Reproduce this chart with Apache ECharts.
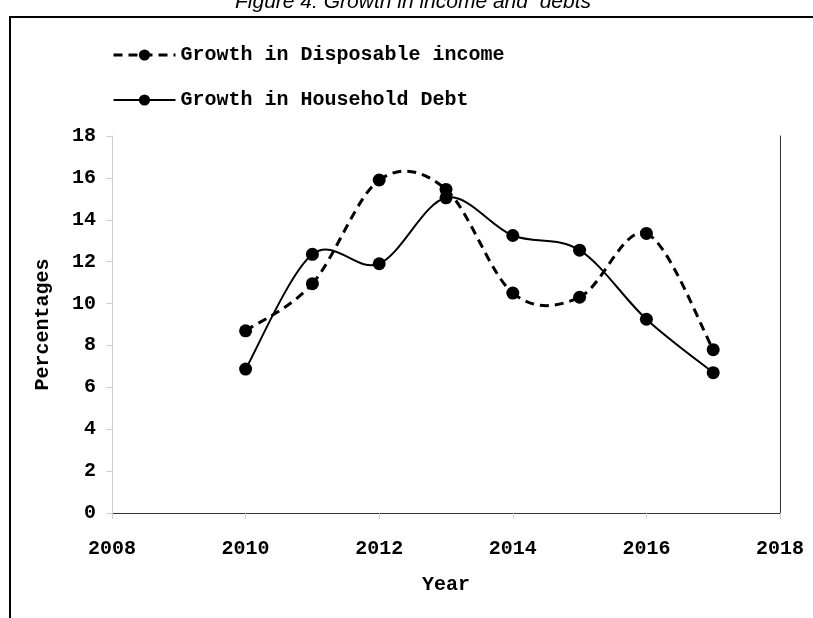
<!DOCTYPE html>
<html>
<head>
<meta charset="utf-8">
<script src="https://cdn.jsdelivr.net/npm/echarts@6/dist/echarts.min.js"></script>
<style>
  html, body { margin: 0; padding: 0; background: #fff; }
  #chart { width: 813px; height: 618px; }
</style>
</head>
<body>
<div id="chart"></div>
<script>
// values
const years = [2010, 2011, 2012, 2013, 2014, 2015, 2016, 2017]
const incomeGrowth = [8.7, 10.95, 15.9, 15.45, 10.5, 10.3, 13.35, 7.8]
const debtGrowth = [6.87, 12.35, 11.9, 15.05, 13.25, 12.55, 9.25, 6.7]
const yTicks = { min: 0, max: 18, step: 2 }
const xTicks = { min: 2008, max: 2018, step: 2 }

const mono = '"Liberation Mono", "Courier New", monospace'
const chart = echarts.init(document.getElementById('chart'), null, { renderer: 'canvas' })

const pair = (vals) => years.map((y, i) => [y, vals[i]])
const dashed = { color: '#000', width: 3, type: [9, 6] }
const solid = { color: '#000', width: 2, type: 'solid' }

// spreadsheet-style smoothed curve: one cubic bezier per segment,
// control points from neighbouring points (catmull-rom, /6)
function curve(vals, ls) {
  const n = years.length
  return {
    type: 'custom',
    silent: true,
    z: 1,
    data: pair(vals),
    encode: { x: 0, y: 1 },
    renderItem(params, api) {
      const i = params.dataIndex
      if (i >= n - 1) return null
      const p = (k) => {
        const j = Math.max(0, Math.min(n - 1, k))
        return api.coord([years[j], vals[j]])
      }
      const p0 = p(i - 1), p1 = p(i), p2 = p(i + 1), p3 = p(i + 2)
      return {
        type: 'bezierCurve',
        shape: {
          x1: p1[0], y1: p1[1], x2: p2[0], y2: p2[1],
          cpx1: p1[0] + (p2[0] - p0[0]) / 6, cpy1: p1[1] + (p2[1] - p0[1]) / 6,
          cpx2: p2[0] - (p3[0] - p1[0]) / 6, cpy2: p2[1] - (p3[1] - p1[1]) / 6
        },
        style: { fill: null, stroke: ls.color, lineWidth: ls.width, lineDash: Array.isArray(ls.type) ? ls.type : null }
      }
    }
  }
}

chart.setOption({
  backgroundColor: '#fff',
  animation: false,
  title: {
    text: 'Figure 4: Growth in income and  debts',
    left: 230,
    top: -13,
    textStyle: { fontFamily: 'Liberation Sans', fontStyle: 'italic', fontWeight: 'normal', fontSize: 21, color: '#000' }
  },
  graphic: [{
    type: 'rect',
    shape: { x: 10, y: 17, width: 820, height: 620 },
    style: { fill: 'none', stroke: '#000', lineWidth: 2 },
    silent: true
  }],
  legend: {
    orient: 'vertical',
    left: 112,
    top: 45,
    padding: 0,
    itemWidth: 62,
    itemHeight: 14,
    itemGap: 25,
    textStyle: { fontFamily: mono, fontWeight: 'bold', fontSize: 20, color: '#000' },
    data: [
      { name: 'Growth in Disposable income', lineStyle: Object.assign({ opacity: 1 }, dashed) },
      { name: 'Growth in Household Debt', lineStyle: Object.assign({ opacity: 1 }, solid) }
    ]
  },
  grid: { left: 112, right: 33, top: 136, bottom: 105 },
  xAxis: [{
    type: 'value',
    min: xTicks.min, max: xTicks.max, interval: xTicks.step,
    name: 'Year', nameLocation: 'middle', nameGap: 62,
    nameTextStyle: { fontFamily: mono, fontWeight: 'bold', fontSize: 20, color: '#000' },
    axisLine: { lineStyle: { color: '#d0d0d0', width: 1 } },
    axisTick: { show: true, length: 6, lineStyle: { color: '#d0d0d0' } },
    axisLabel: { margin: 26, fontFamily: mono, fontWeight: 'bold', fontSize: 20, color: '#000', formatter: (v) => String(v) },
    splitLine: { show: false }
  }, {
    type: 'value', position: 'top',
    min: xTicks.min, max: xTicks.max,
    axisLine: { show: true, lineStyle: { color: '#333', width: 1 } },
    axisTick: { show: false }, axisLabel: { show: false }, splitLine: { show: false }
  }],
  yAxis: [{
    type: 'value',
    min: yTicks.min, max: yTicks.max, interval: yTicks.step,
    name: 'Percentages', nameLocation: 'middle', nameGap: 59,
    nameTextStyle: { fontFamily: mono, fontWeight: 'bold', fontSize: 20, color: '#000' },
    axisLine: { show: true, lineStyle: { color: '#d0d0d0', width: 1 } },
    axisTick: { show: true, length: 6, lineStyle: { color: '#d0d0d0' } },
    axisLabel: { margin: 16, fontFamily: mono, fontWeight: 'bold', fontSize: 20, color: '#000' },
    splitLine: { show: false }
  }, {
    type: 'value', position: 'right',
    min: yTicks.min, max: yTicks.max,
    axisLine: { show: true, lineStyle: { color: '#333', width: 1 } },
    axisTick: { show: false }, axisLabel: { show: false }, splitLine: { show: false }
  }],
  series: [
    {
      name: 'Growth in Disposable income',
      type: 'line',
      z: 3,
      data: pair(incomeGrowth),
      symbol: 'circle',
      symbolSize: 13,
      itemStyle: { color: '#000' },
      lineStyle: Object.assign({ opacity: 0 }, dashed)
    },
    {
      name: 'Growth in Household Debt',
      type: 'line',
      z: 3,
      data: pair(debtGrowth),
      symbol: 'circle',
      symbolSize: 13,
      itemStyle: { color: '#000' },
      lineStyle: Object.assign({ opacity: 0 }, solid)
    },
    curve(incomeGrowth, dashed),
    curve(debtGrowth, solid)
  ]
})
</script>
</body>
</html>
